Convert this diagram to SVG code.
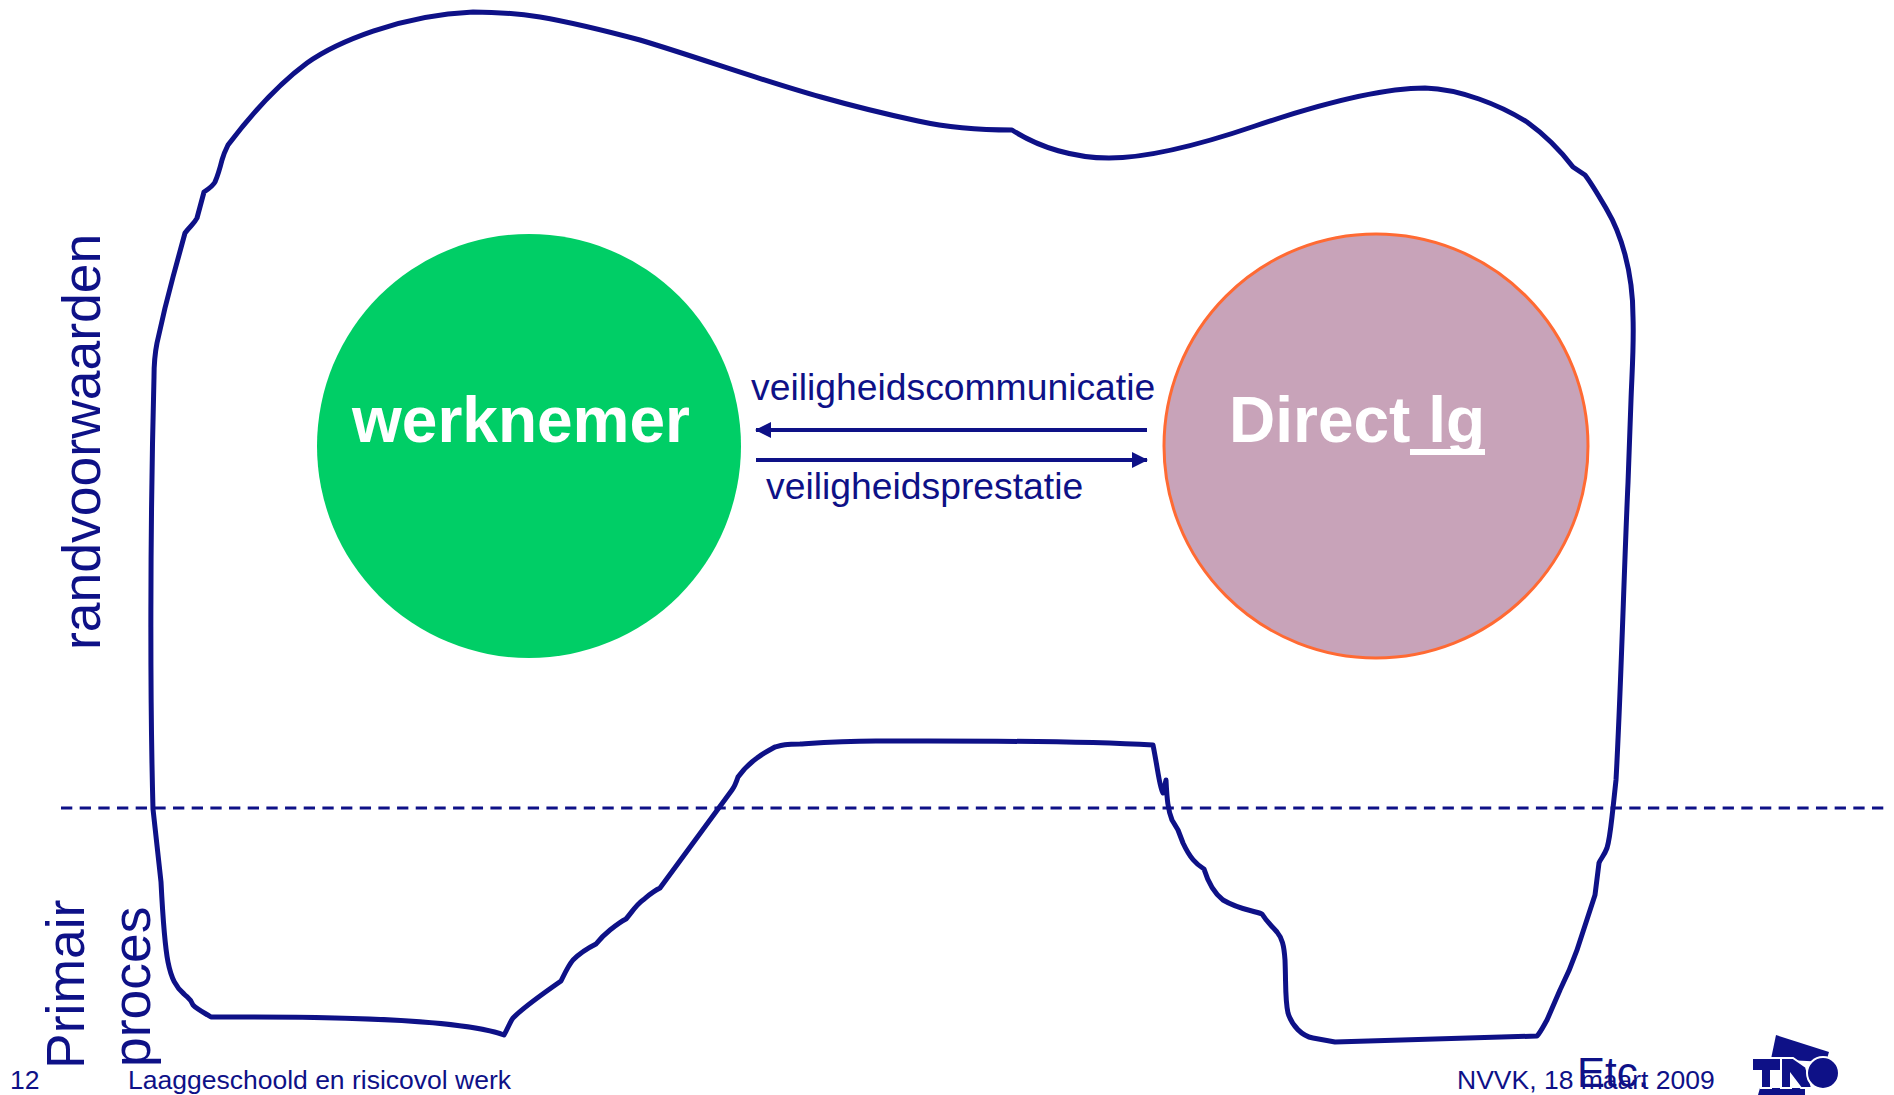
<svg xmlns="http://www.w3.org/2000/svg" width="1894" height="1095" viewBox="0 0 1894 1095">
<style>
text{font-family:"Liberation Sans",Arial,sans-serif;fill:#0e1187}
.b{font-weight:bold;fill:#fff;font-size:64px}
.m{font-size:37.3px}
.f{font-size:26.5px}
.v{font-size:53.5px}
.o{fill:none;stroke:#0e1187;stroke-width:5;stroke-linejoin:round}
.a{stroke:#0e1187;stroke-width:4;fill:none}
</style>
<defs><marker id="h" markerUnits="userSpaceOnUse" markerWidth="16" markerHeight="16" refX="15" refY="8" orient="auto"><path d="M0 0L16 8L0 16Z" fill="#0e1187"/></marker></defs>
<rect width="1894" height="1095" fill="#fff"/>
<g id="outline"><path class="o" d="M1012 130C1040 148 1075 158 1109 158C1150 158 1208 142 1255 126C1320 104 1380 88 1425 88C1460 89 1500 105 1527 122C1545 135 1560 150 1573 167L1585 175C1592 184 1600 198 1607 210C1620 232 1633 270 1633 317C1634 345 1632 372 1631 400L1628 483C1624 570 1621 690 1616 780L1613 808C1611 825 1610 838 1607 848C1604 856 1601 858 1599 863L1595 895L1577 950C1570 970 1565 980 1560 990L1547 1020C1543 1027 1540 1033 1537 1036L1335 1042L1313 1038C1302 1036 1292 1026 1288 1013C1285 1000 1286 985 1285 960C1284 945 1282 938 1277 932C1270 924 1267 922 1262 914C1252 910 1240 910 1223 900C1214 893 1208 882 1204 869C1196 864 1190 858 1183 843L1178 830L1172 820C1168 810 1167 800 1166 780L1163 793C1160 790 1158 770 1153 745C1060 740 950 741 876 741C840 741 815 743 800 744C785 744 782 745 775 747C770 750 765 752 757 758C750 763 743 770 738 777C736 783 735 786 732 790L660 888C652 892 648 896 643 900C636 905 632 912 626 919C620 922 615 926 610 930C605 934 600 939 596 944C588 948 580 953 573 960C568 966 565 973 561 981C540 996 525 1006 513 1018C510 1022 507 1030 504 1035C470 1022 370 1016 211 1017C205 1013 198 1010 193 1005C191 999 188 998 184 994C168 980 165 960 161 882L153 809C150 700 150 530 154 377C154 365 155 353 157 343L165 308L173 277L185 233C190 226 194 224 197 218L204 192C210 188 213 186 215 182C218 175 220 168 222 160C224 153 226 149 228 145C256 108 280 83 307 63C335 43 400 15 473 12C495 12 520 14 540 17C575 23 610 32 640 40C700 58 760 80 821 97C860 108 890 115 918 121C950 128 980 130 1012 130Z"/></g>
<g id="divider"><line x1="61" y1="808" x2="1884" y2="808" stroke="#0e1187" stroke-width="3" stroke-dasharray="11.3 7.37"/></g>
<g id="werknemer"><circle cx="529" cy="446" r="212" fill="#00ce66"/><text class="b" x="352" y="442">werknemer</text></g>
<g id="direct-lg"><circle cx="1376" cy="446" r="212" fill="#c8a3b9" stroke="#ff6a33" stroke-width="3"/><text class="b" x="1229" y="442">Direct lg</text><rect x="1410" y="449" width="75" height="6" fill="#fff"/></g>
<g id="connectors"><line class="a" x1="1147" y1="430" x2="756" y2="430" marker-end="url(#h)"/><line class="a" x1="756" y1="460" x2="1147" y2="460" marker-end="url(#h)"/></g>
<g id="labels">
<text class="m" x="751" y="400">veiligheidscommunicatie</text>
<text class="m" x="766" y="499">veiligheidsprestatie</text>
<text class="v" transform="translate(100 650) rotate(-90)">randvoorwaarden</text>
<text class="v" transform="translate(84 1069) rotate(-90)">Primair</text>
<text class="v" transform="translate(150 1067) rotate(-90)">proces</text>
<text class="f" x="10" y="1089">12</text>
<text class="f" x="128" y="1089">Laaggeschoold en risicovol werk</text>
<text class="f" x="1457" y="1089">NVVK, 18 maart 2009</text>
<text x="1577" y="1087" font-size="42">Etc.</text>
</g>
<g id="logo" fill="#0e1187">
<path d="M1776 1035L1829 1052L1826 1062L1771 1059Z"/>
<path d="M1758 1095L1760 1088H1805V1095Z"/>
<g stroke="#fff" stroke-width="2">
<path d="M1752 1058H1782V1071H1771V1088H1761V1071H1752Z"/>
<path d="M1781 1058H1793L1806 1067L1812 1088H1801L1791 1075V1088H1781Z"/>
<circle cx="1823" cy="1073" r="16"/>
</g>
</g>
</svg>
